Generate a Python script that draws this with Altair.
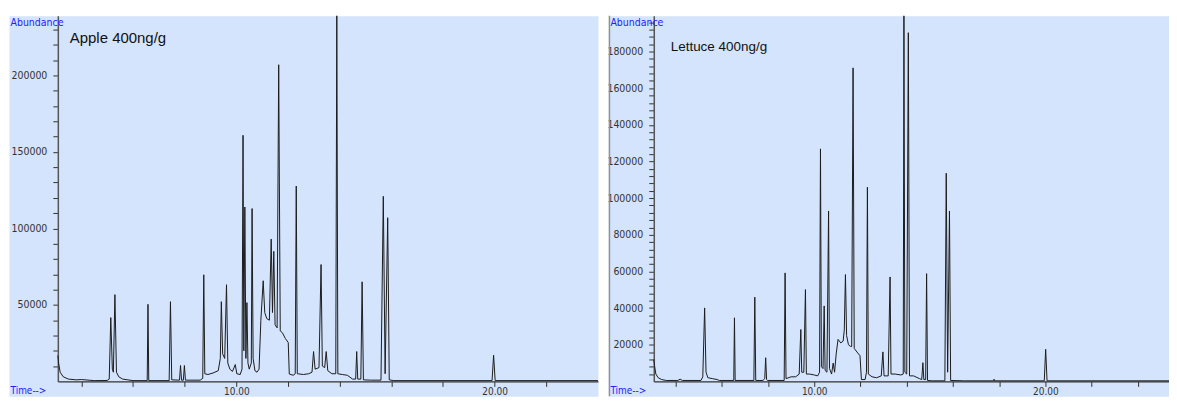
import altair as alt
import pandas as pd

# ---------------- data ----------------
apple_time = [3.09, 3.12, 3.18, 3.30, 3.50, 3.80, 4.00, 4.50, 5.00, 5.08, 5.14, 5.20, 5.24, 5.30, 5.36,
              5.45, 5.60, 5.80, 6.00, 6.55, 6.58, 6.61, 7.40, 7.45, 7.50, 7.80, 7.84, 7.88, 7.95, 7.99,
              8.03, 8.60, 8.70, 8.74, 8.78, 8.90, 9.10, 9.30, 9.38, 9.42, 9.47, 9.55, 9.62, 9.67, 9.75,
              9.85, 9.96, 10.02, 10.15, 10.22, 10.26, 10.29, 10.33, 10.37, 10.41, 10.45, 10.50, 10.58,
              10.61, 10.65, 10.72, 10.80, 10.88, 10.95, 11.04, 11.10, 11.18, 11.28, 11.35, 11.40, 11.45,
              11.50, 11.58, 11.64, 11.70, 11.78, 11.90, 12.01, 12.05, 12.20, 12.28, 12.32, 12.36, 12.60,
              12.80, 12.93, 12.99, 13.05, 13.20, 13.28, 13.33, 13.42, 13.48, 13.54, 13.70, 13.85, 13.89,
              13.93, 14.10, 14.30, 14.50, 14.62, 14.66, 14.70, 14.82, 14.87, 14.92, 15.20, 15.60, 15.69,
              15.76, 15.86, 15.92, 16.10, 19.90, 19.96, 20.02, 24.00]
apple_abund = [17000, 12000, 6000, 3000, 1500, 1000, 1200, 500, 600, 1500, 41700, 8000, 6000, 56700, 6000,
               3000, 1500, 1000, 500, 500, 50400, 500, 500, 52100, 1000, 800, 10400, 800, 800, 10400,
               800, 800, 2000, 69700, 5000, 4500, 5500, 7000, 15000, 52100, 18000, 15000, 63200, 12000, 8000,
               6500, 11000, 5000, 4500, 8000, 160900, 20000, 114000, 15000, 51500, 12000, 8000, 12000,
               113000, 15000, 7000, 6000, 8000, 40000, 65800, 45000, 41000, 40000, 93000, 45000, 85000,
               37000, 35000, 207000, 33000, 31900, 28000, 25400, 4800, 4000, 5000, 127700, 5000, 4500,
               5000, 6000, 19500, 8000, 9000, 76400, 10000, 9000, 19500, 7000, 5000, 5000, 239000,
               5000, 4500, 4000, 1500, 1500, 19500, 1500, 1500, 65100, 1000, 800, 800, 121000,
               5000, 107000, 1000, 500, 500, 17100, 500, 500]

lettuce_time = [3.06, 3.10, 3.15, 3.25, 3.40, 3.60, 4.10, 4.20, 4.30, 5.10, 5.18, 5.26, 5.32, 5.40, 5.60,
                5.80, 5.90, 6.52, 6.55, 6.58, 7.39, 7.43, 7.47, 7.78, 7.86, 7.90, 7.94, 7.98, 8.70, 8.74,
                8.78, 9.00, 9.20, 9.35, 9.42, 9.46, 9.55, 9.62, 9.66, 9.80, 10.00, 10.15, 10.23, 10.27,
                10.31, 10.38, 10.43, 10.47, 10.55, 10.62, 10.66, 10.75, 10.82, 10.88, 10.95, 11.03, 11.15,
                11.25, 11.30, 11.35, 11.40, 11.48, 11.58, 11.62, 11.68, 11.73, 11.85, 11.98, 12.04, 12.20,
                12.26, 12.30, 12.34, 12.50, 12.70, 12.90, 12.97, 13.02, 13.20, 13.28, 13.32, 13.50, 13.75,
                13.85, 13.88, 13.92, 14.00, 14.07, 14.12, 14.30, 14.55, 14.65, 14.70, 14.74, 14.82, 14.86,
                14.90, 15.10, 15.65, 15.71, 15.77, 15.85, 15.90, 16.50, 17.75, 17.78, 17.80, 19.95, 20.01,
                20.07, 25.56]
lettuce_abund = [12000, 8000, 4000, 2000, 1000, 500, 500, 1200, 500, 500, 2500, 40100, 5000, 2000, 1500,
                 1000, 500, 500, 34700, 500, 500, 46000, 500, 500, 1500, 12900, 1000, 500, 500, 59200,
                 1500, 2500, 2500, 4000, 28300, 5000, 5000, 50100, 4000, 4000, 3500, 3000, 5000, 126900,
                 8000, 7000, 41200, 6000, 5000, 93000, 7000, 4000, 10000, 5000, 15000, 22900, 21000,
                 22000, 28000, 58300, 25000, 20000, 19000, 19000, 171100, 18000, 16000, 14000, 1000, 1000,
                 5000, 106000, 4000, 2500, 2000, 3000, 16100, 3000, 3000, 57000, 4000, 4000, 3500,
                 4000, 199500, 5000, 4000, 190300, 3000, 3000, 1500, 1000, 10200, 1000, 1000, 58800,
                 500, 300, 300, 113600, 5000, 93000, 500, 300, 300, 1200, 300, 300, 17500,
                 300, 300]

panel_titles = ["Apple 400ng/g", "Lettuce 400ng/g"]
x_tick_values_left = [4, 6, 8, 10, 12, 14, 16, 18, 20, 22]
x_tick_values_right = [4, 6, 8, 10, 12, 14, 16, 18, 20, 22, 24]
y_tick_values_left = list(range(10000, 240000, 10000))
y_tick_values_right = list(range(4000, 200000, 4000))

# ---------------- styling ----------------
BG = "#d4e4fc"
LINE = "#1c1c1c"
BLUE = "#2222ff"
LABEL_FONT = "DejaVu Sans Condensed, Liberation Sans, sans-serif"
TITLE_FONT = "Liberation Sans, Arial, sans-serif"
H = 382          # view height
AXIS_Y = 367     # pixel row of zero abundance inside the view


def panel(times, abunds, title, width, x_left, x_domain, x_ticks, y_max, y_ticks, y_label_step,
          title_x, title_y, title_size, border):
    df = pd.DataFrame({"time": times, "abundance": abunds})
    x_axis = alt.Axis(
        values=x_ticks, offset=-(H - AXIS_Y), grid=False,
        labelExpr="datum.value == 10 || datum.value == 20 ? format(datum.value, '.2f') : ''",
        tickSize=5, tickColor="#333333", domainColor="#333333", domainWidth=1.3,
        labelFont=LABEL_FONT, labelFontSize=10, labelColor="#333333", labelPadding=0,
        title="Time-->", titleFont=LABEL_FONT, titleFontSize=10, titleFontWeight="normal",
        titleColor=BLUE, titleAlign="left", titleBaseline="top", titleX=1, titleY=4,
    )
    y_axis = alt.Axis(
        values=y_ticks, offset=-x_left, grid=False,
        labelExpr=f"datum.value % {y_label_step} == 0 ? format(datum.value, 'd') : ''",
        tickSize=5, tickColor="#333333", domainColor="#555555", domainWidth=1.5,
        labelFont=LABEL_FONT, labelFontSize=10.5, labelColor="#333333", labelPadding=6,
        title="Abundance", titleFont=LABEL_FONT, titleFontSize=10.5, titleFontWeight="normal",
        titleColor=BLUE, titleAngle=0, titleAlign="left", titleBaseline="top",
        titleX=-x_left + 1, titleY=2,
    )
    line = alt.Chart(df).mark_line(color=LINE, strokeWidth=1).encode(
        x=alt.X("time:Q", axis=x_axis,
                scale=alt.Scale(domain=x_domain, range=[x_left, width], nice=False, zero=False)),
        y=alt.Y("abundance:Q", axis=y_axis,
                scale=alt.Scale(domain=[0, y_max], range=[AXIS_Y, 0], nice=False, zero=False)),
    )
    text = alt.Chart(pd.DataFrame({"label": [title]})).mark_text(
        align="left", baseline="alphabetic", font=TITLE_FONT, fontSize=title_size, color="#111111"
    ).encode(x=alt.value(title_x), y=alt.value(title_y), text="label:N")
    layers = [line, text]
    if border:
        rule = alt.Chart(pd.DataFrame({"a": [0]})).mark_rule(color="#8a909c", strokeWidth=1.5).encode(
            x=alt.value(0.5), y=alt.value(0), y2=alt.value(H))
        layers.append(rule)
    return alt.layer(*layers).properties(width=width, height=H)


left = panel(apple_time, apple_abund, panel_titles[0], 591, 49, [3.09, 24.0],
             x_tick_values_left, 239100, y_tick_values_left, 50000, 61, 27, 15, False)
right = panel(lettuce_time, lettuce_abund, panel_titles[1], 567, 45, [3.06, 25.56],
              x_tick_values_right, 199600, y_tick_values_right, 20000, 62, 35, 13.5, True)

chart = alt.hconcat(left, right, spacing=11, bounds="flush").properties(
    padding={"left": 0, "top": 4, "right": -8, "bottom": 0},
    background="white",
).configure_view(fill=BG, stroke="transparent")

chart.save("out.html", embed_options={"renderer": "svg", "actions": False})
